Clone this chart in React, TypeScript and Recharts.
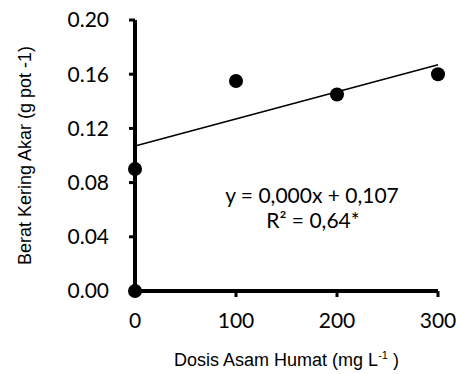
import { ComposedChart, Scatter, Line, XAxis, YAxis, Customized } from "recharts";

const doses = [0, 0, 100, 200, 300];
const rootWeight = [0, 0.09, 0.155, 0.145, 0.16];
const trendX = [0, 300];
const trendY = [0.107, 0.167];
const xTicks = [0, 100, 200, 300];
const yTicks = [0, 0.04, 0.08, 0.12, 0.16, 0.2];

const points = doses.map((x, i) => ({ x, y: rootWeight[i] }));
const trend = trendX.map((x, i) => ({ x, y: trendY[i] }));

const tickFont = "Lato, 'Open Sans', sans-serif";
const titleFont = "'Liberation Sans', Arial, sans-serif";

const XTitle = ({ viewBox }: any) => {
  const cx = viewBox.x + viewBox.width / 2;
  return (
    <text x={cx} y={366} textAnchor="middle" fontFamily={titleFont} fontSize={18} fill="#000">
      Dosis Asam Humat (mg L
      <tspan dy={-7} fontSize={11}>-1</tspan>
      <tspan dy={7}> )</tspan>
    </text>
  );
};

const YTitle = ({ viewBox }: any) => {
  const cy = viewBox.y + viewBox.height / 2;
  return (
    <text
      x={25}
      y={cy}
      transform={`rotate(-90, 25, ${cy})`}
      textAnchor="middle"
      dominantBaseline="central"
      fontFamily={titleFont}
      fontSize={18}
      fill="#000"
    >
      Berat Kering Akar (g pot -1)
    </text>
  );
};

const Equation = () => (
  <g fontFamily={tickFont} fontSize={21} fill="#000">
    <text x={312} y={203} textAnchor="middle">y = 0,000x + 0,107</text>
    <text x={313} y={228} textAnchor="middle">R² = 0,64*</text>
  </g>
);

export default function App() {
  return (
    <div style={{ position: "absolute", left: 0, top: 0, background: "#fff" }}>
      <ComposedChart width={460} height={374} margin={{ top: 20, right: 22, bottom: 0, left: 0 }}>
        <XAxis
          type="number"
          dataKey="x"
          domain={[0, 300]}
          ticks={xTicks}
          axisLine={{ stroke: "#000", strokeWidth: 4 }}
          tickLine={{ stroke: "#000", strokeWidth: 3 }}
          tickSize={6}
          tickMargin={16}
          tick={{ fill: "#000", fontSize: 21, fontFamily: tickFont }}
          height={83}
          label={<XTitle />}
        />
        <YAxis
          type="number"
          dataKey="y"
          domain={[0, 0.2]}
          ticks={yTicks}
          tickFormatter={(v: number) => v.toFixed(2)}
          axisLine={{ stroke: "#000", strokeWidth: 4 }}
          tickLine={{ stroke: "#000", strokeWidth: 3 }}
          tickSize={6}
          tickMargin={20}
          tick={{ fill: "#000", fontSize: 21, fontFamily: tickFont }}
          width={135}
          label={<YTitle />}
        />
        <Line
          data={trend}
          dataKey="y"
          stroke="#000"
          strokeWidth={1.5}
          dot={false}
          isAnimationActive={false}
        />
        <Scatter
          data={points}
          dataKey="y"
          fill="#000"
          shape={(p: any) => <circle cx={p.cx} cy={p.cy} r={7} fill="#000" />}
          isAnimationActive={false}
        />
        <Customized component={Equation} />
      </ComposedChart>
    </div>
  );
}
